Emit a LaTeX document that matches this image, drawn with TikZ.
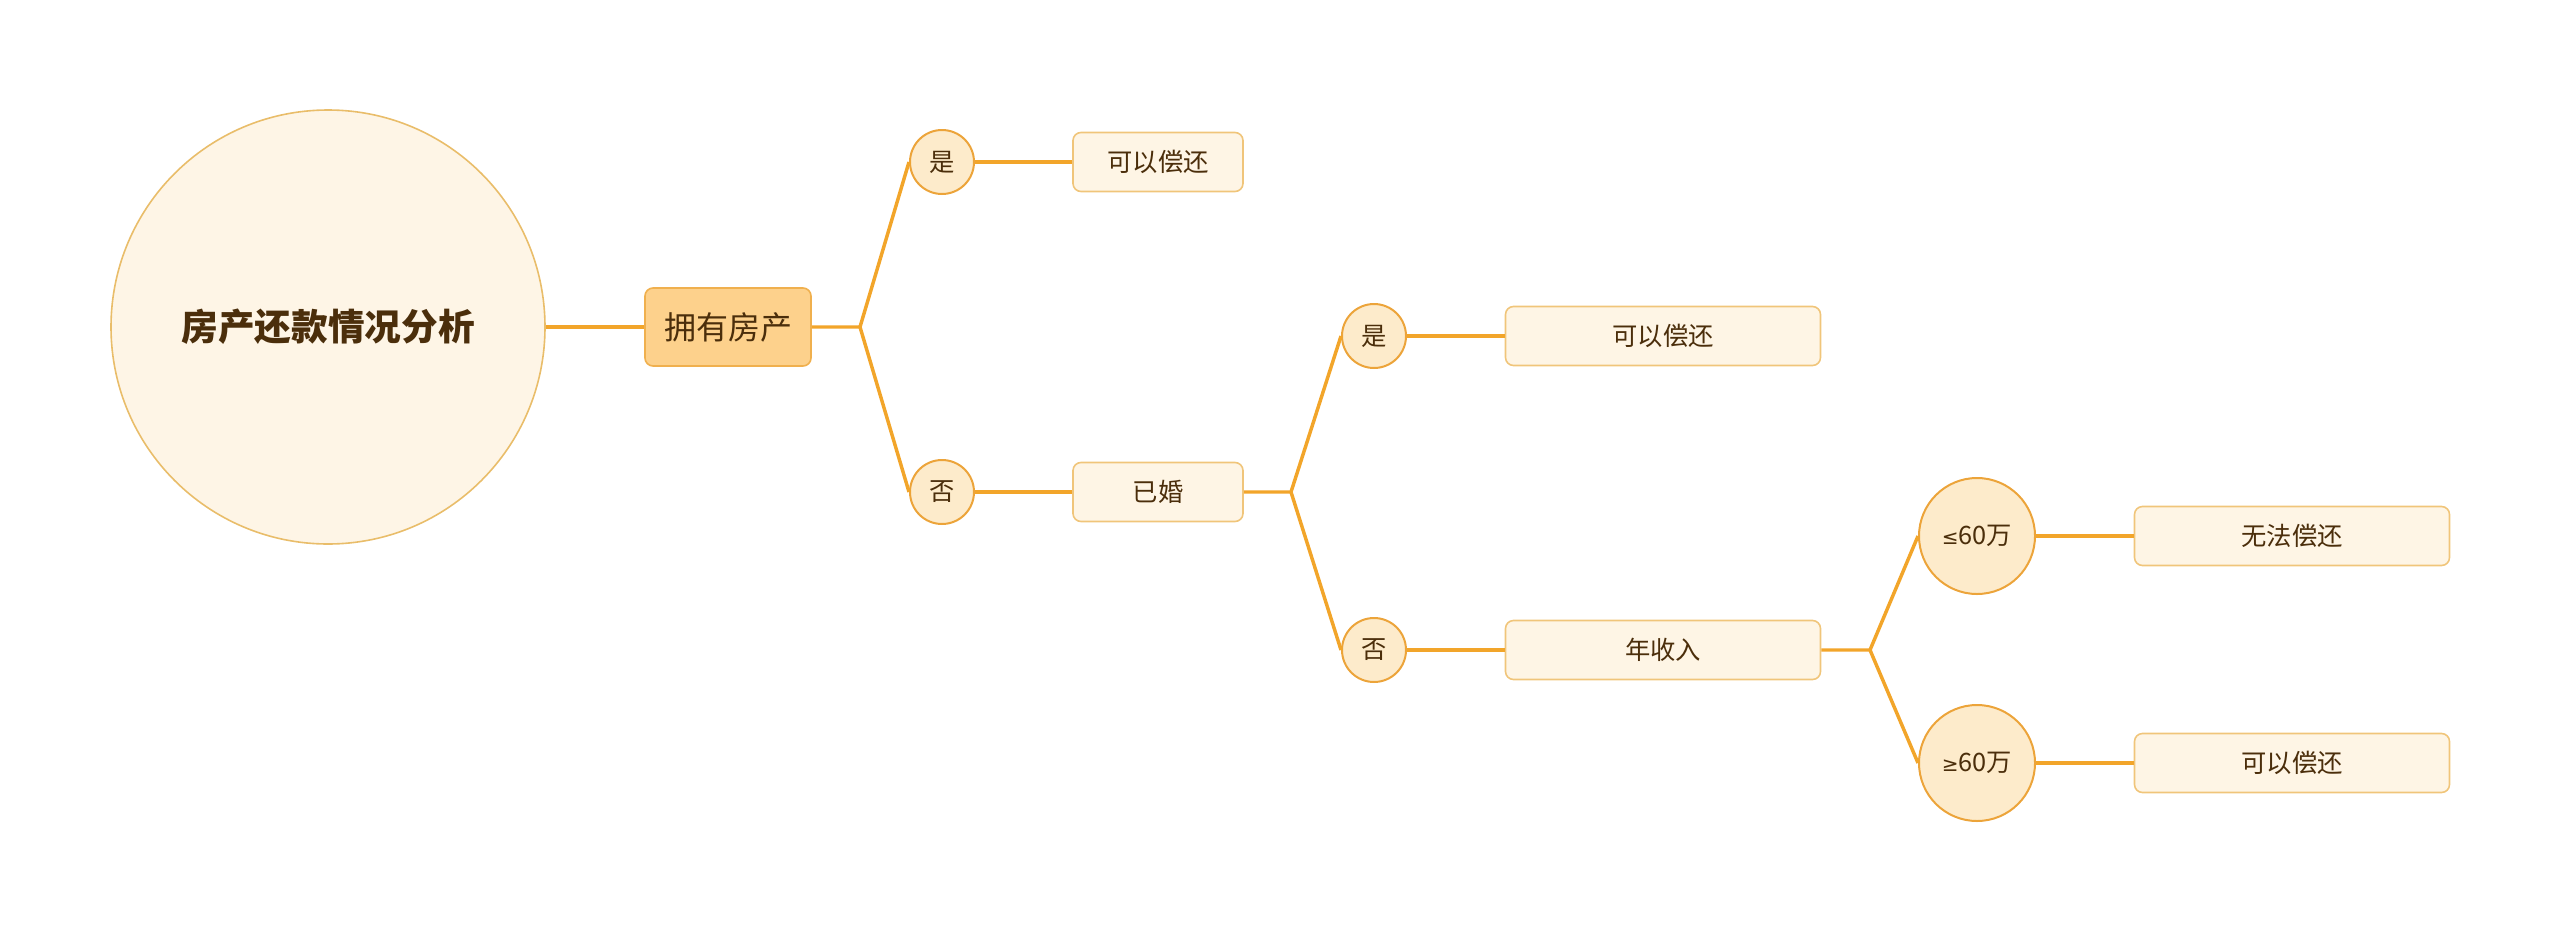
\documentclass[tikz,border=0pt]{standalone}
\usepackage{fontspec}
\setmainfont{Noto Sans CJK SC}
\newfontfamily\symfont{DejaVu Sans}
\definecolor{rootfill}{HTML}{FEF5E6}
\definecolor{rootdraw}{HTML}{E9BD6A}
\definecolor{ownfill}{HTML}{FDD18C}
\definecolor{owndraw}{HTML}{F0B04E}
\definecolor{circfill}{HTML}{FDEBCB}
\definecolor{circdraw}{HTML}{ECA43A}
\definecolor{boxfill}{HTML}{FEF5E5}
\definecolor{boxdraw}{HTML}{F0C57A}
\definecolor{linec}{HTML}{F2A52A}
\definecolor{txt}{HTML}{4B2E0B}
\tikzset{
  rootnode/.style={circle, fill=rootfill, draw=rootdraw, line width=1.2pt, minimum size=325.5pt, inner sep=0pt, text=txt, font=\fontsize{27.5pt}{30pt}\selectfont\bfseries},
  ownnode/.style={rectangle, rounded corners=6pt, fill=ownfill, draw=owndraw, line width=1.2pt, minimum width=124.5pt, minimum height=58.5pt, inner sep=0pt, text=txt, font=\fontsize{24pt}{26pt}\selectfont},
  cnode/.style={circle, fill=circfill, draw=circdraw, line width=1.5pt, minimum size=#1, inner sep=0pt, text=txt, font=\fontsize{19pt}{21pt}\selectfont},
  bnode/.style={rectangle, rounded corners=6pt, fill=boxfill, draw=boxdraw, line width=1.2pt, minimum width=#1, minimum height=44.25pt, inner sep=0pt, text=txt, font=\fontsize{19pt}{21pt}\selectfont},
  conn/.style={draw=linec, line width=2.6pt, line join=round}
}
\begin{document}
\begin{tikzpicture}[x=0.75pt, y=-0.75pt]
\useasboundingbox (0,0) rectangle (2560,932);
% nodes
\node[rootnode] (root) at (328,327) {房产还款情况分析};
\node[ownnode] (own) at (728,327) {拥有房产};
\coordinate (bp1) at (860,327);
\node[cnode=48pt] (yes1) at (942,162) {是};
\node[cnode=48pt] (no1) at (942,492) {否};
\node[bnode=127.5pt] (r1) at (1158,162) {可以偿还};
\node[bnode=127.5pt] (married) at (1158,492) {已婚};
\coordinate (bp2) at (1291,492);
\node[cnode=48pt] (yes2) at (1374,336) {是};
\node[cnode=48pt] (no2) at (1374,650) {否};
\node[bnode=236.25pt] (r2) at (1663,336) {可以偿还};
\node[bnode=236.25pt] (income) at (1663,650) {年收入};
\coordinate (bp3) at (1870,650);
\node[cnode=87pt] (le) at (1977,536) {{\symfont\fontsize{15pt}{17pt}\selectfont ≤}60万};
\node[cnode=87pt] (ge) at (1977,763) {{\symfont\fontsize{15pt}{17pt}\selectfont ≥}60万};
\node[bnode=236.25pt] (r3) at (2292,536) {无法偿还};
\node[bnode=236.25pt] (r4) at (2292,763) {可以偿还};
% connectors
\draw[conn] (root.east) -- (own.west);
\draw[conn] (own.east) -- (bp1) -- (yes1.west);
\draw[conn] (bp1) -- (no1.west);
\draw[conn] (yes1.east) -- (r1.west);
\draw[conn] (no1.east) -- (married.west);
\draw[conn] (married.east) -- (bp2) -- (yes2.west);
\draw[conn] (bp2) -- (no2.west);
\draw[conn] (yes2.east) -- (r2.west);
\draw[conn] (no2.east) -- (income.west);
\draw[conn] (income.east) -- (bp3) -- (le.west);
\draw[conn] (bp3) -- (ge.west);
\draw[conn] (le.east) -- (r3.west);
\draw[conn] (ge.east) -- (r4.west);
\end{tikzpicture}
\end{document}
